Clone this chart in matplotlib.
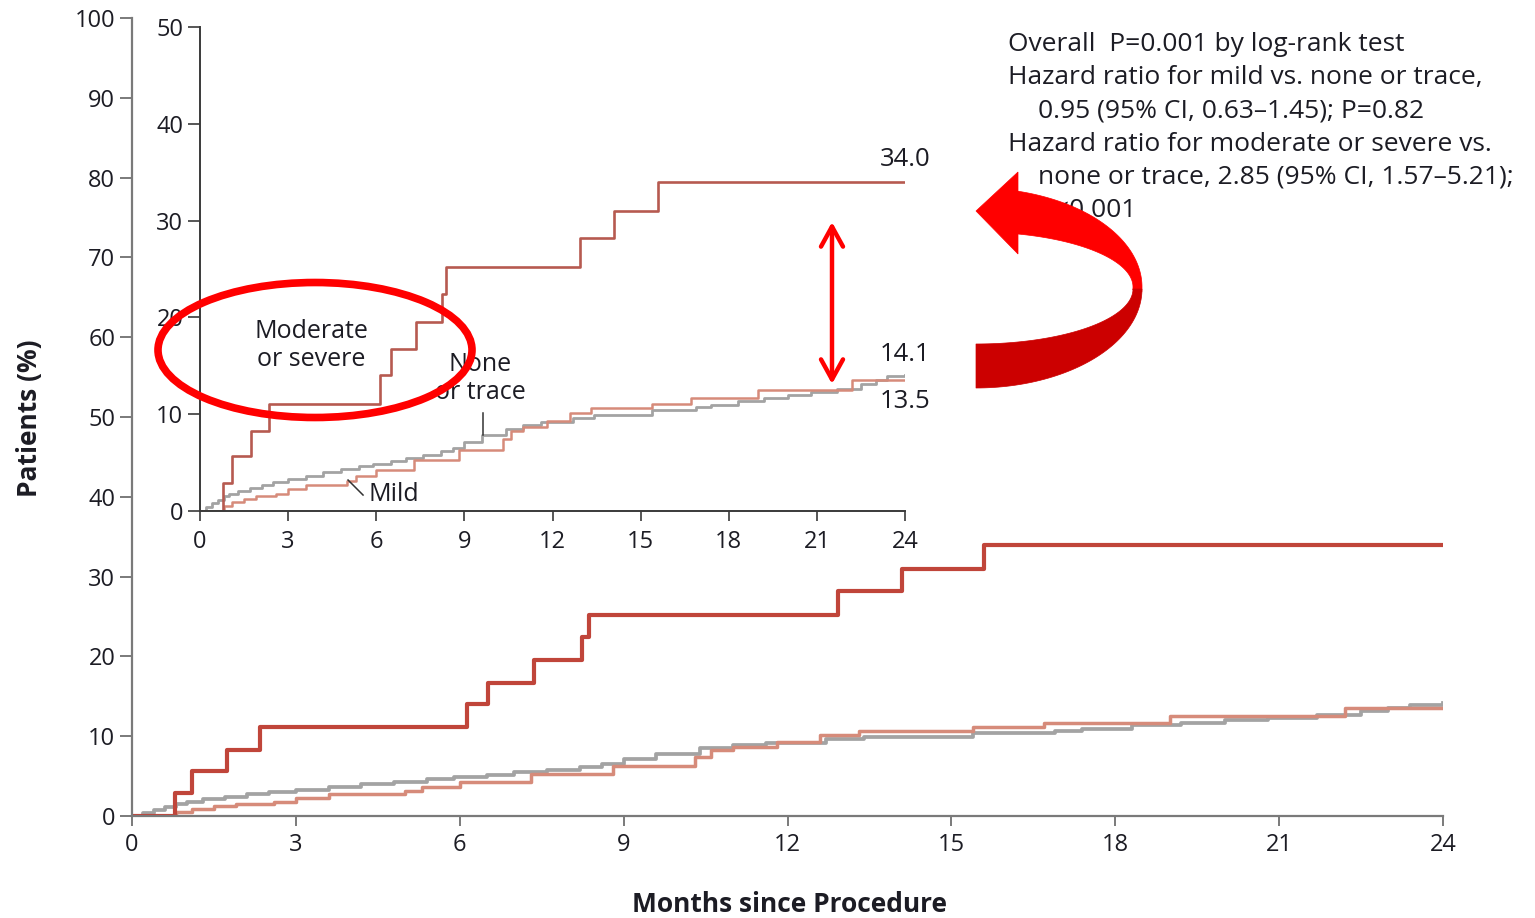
import numpy as np
import matplotlib.pyplot as plt
from matplotlib.patches import Ellipse, Polygon, FancyArrowPatch, ArrowStyle

# Kaplan-Meier curves (months since procedure, % of patients)
mod_t = [0, 0.79, 1.09, 1.73, 2.35, 6.13, 6.51, 7.36, 8.24, 8.37, 12.92, 14.1, 15.6, 24.0]
mod_v = [0, 2.9, 5.7, 8.3, 11.1, 14.0, 16.7, 19.5, 22.4, 25.2, 28.2, 31.0, 34.0, 34.0]

none_t = [0, 0.2, 0.4, 0.6, 0.8, 1.0, 1.3, 1.7, 2.1, 2.5, 3.0, 3.6, 4.2, 4.8, 5.4, 5.9,
          6.5, 7.0, 7.6, 8.2, 8.6, 9.0, 9.6, 10.4, 11.0, 11.6, 12.7, 13.4, 15.4, 16.9,
          17.4, 18.3, 19.2, 20.0, 20.8, 21.7, 22.5, 23.0, 23.4, 24.0]
none_v = [0, 0.4, 0.8, 1.1, 1.5, 1.8, 2.1, 2.4, 2.7, 3.0, 3.3, 3.6, 4.0, 4.3, 4.6, 4.9,
          5.2, 5.5, 5.8, 6.2, 6.5, 7.1, 7.8, 8.5, 8.9, 9.2, 9.6, 9.9, 10.4, 10.7,
          10.9, 11.4, 11.7, 12.0, 12.3, 12.6, 13.1, 13.5, 13.9, 14.1]

mild_t = [0, 0.8, 1.1, 1.5, 1.9, 2.6, 3.0, 3.6, 5.0, 5.3, 6.0, 7.3, 8.8, 10.3, 10.6,
          11.0, 11.8, 12.6, 13.3, 15.4, 16.7, 19.0, 22.2, 24.0]
mild_v = [0, 0.5, 0.9, 1.2, 1.5, 1.8, 2.3, 2.7, 3.1, 3.6, 4.2, 5.3, 6.3, 7.4, 8.3,
          8.7, 9.3, 10.1, 10.6, 11.1, 11.7, 12.5, 13.5, 13.5]

x_ticks = [0, 3, 6, 9, 12, 15, 18, 21, 24]
main_y_ticks = list(range(0, 101, 10))
inset_y_ticks = list(range(0, 51, 10))

stats_lines = [
    ("Overall  P=0.001 by log-rank test", 0),
    ("Hazard ratio for mild vs. none or trace,", 0),
    ("0.95 (95% CI, 0.63\u20131.45); P=0.82", 1),
    ("Hazard ratio for moderate or severe vs.", 0),
    ("none or trace, 2.85 (95% CI, 1.57\u20135.21);", 1),
    ("P<0.001", 1),
]

W, H = 1535, 918
C_MOD = "#c0453a"
C_MILD = "#d68b7a"
C_NONE = "#a3a3a3"
C_TXT = "#1c1c24"
RED = "#ff0000"
DARK_RED = "#cc0000"

plt.rcParams['font.family'] = ['Open Sans', 'DejaVu Sans']


def fx(x):
    return x / W


def fy(y):
    return 1 - y / H


fig = plt.figure(figsize=(W / 100, H / 100), dpi=100)

# main axes
ax = fig.add_axes([fx(132), fy(816), fx(1443) - fx(132), fy(18) - fy(816)])
ax.step(none_t, none_v, where="post", color=C_NONE, lw=2.7)
ax.step(mild_t, mild_v, where="post", color=C_MILD, lw=2.5)
ax.step(mod_t, mod_v, where="post", color=C_MOD, lw=3.0)
ax.set_xlim(0, 24)
ax.set_ylim(0, 100)
ax.set_xticks(x_ticks)
ax.set_yticks(main_y_ticks)
for s in ["top", "right"]:
    ax.spines[s].set_visible(False)
for s in ["left", "bottom"]:
    ax.spines[s].set_color("#7a7a7a")
    ax.spines[s].set_linewidth(1.6)
ax.tick_params(direction="out", length=9, width=1.4, color="#7a7a7a",
               labelsize=17, labelcolor=C_TXT, pad=3)
ax.tick_params(axis="x", length=7, pad=5)
ax.patch.set_alpha(0)

# inset axes (zoomed 0-50%)
ax_in = fig.add_axes([fx(200), fy(511), fx(905) - fx(200), fy(27) - fy(511)])
ax_in.step(none_t, none_v, where="post", color=C_NONE, lw=2.0)
ax_in.step(mild_t, mild_v, where="post", color=C_MILD, lw=1.8)
ax_in.step(mod_t, mod_v, where="post", color="#b65a50", lw=1.9)
ax_in.set_xlim(0, 24)
ax_in.set_ylim(0, 50)
ax_in.set_xticks(x_ticks)
ax_in.set_yticks(inset_y_ticks)
for s in ["top", "right"]:
    ax_in.spines[s].set_visible(False)
for s in ["left", "bottom"]:
    ax_in.spines[s].set_color("#3a3a3a")
    ax_in.spines[s].set_linewidth(1.4)
ax_in.tick_params(direction="out", length=9, width=1.2, color="#3a3a3a",
                  labelsize=17, labelcolor=C_TXT, pad=3)
ax_in.tick_params(axis="x", length=7, pad=7)
ax_in.patch.set_alpha(0)

# curve labels in the inset
ax_in.text(24, 36.3, "34.0", ha="center", va="center", fontsize=18.5, color=C_TXT)
ax_in.text(24, 16.2, "14.1", ha="center", va="center", fontsize=18.5, color=C_TXT)
ax_in.text(24, 11.3, "13.5", ha="center", va="center", fontsize=18.5, color=C_TXT)
ax_in.text(3.78, 17.1, "Moderate\nor severe", ha="center", va="center",
           fontsize=18, color=C_TXT, linespacing=1.15)
ax_in.text(9.55, 13.7, "None\nor trace", ha="center", va="center",
           fontsize=18, color=C_TXT, linespacing=1.15)
ax_in.text(5.72, 1.75, "Mild", ha="left", va="center", fontsize=18, color=C_TXT)
ax_in.plot([5.04, 5.55], [3.2, 1.65], color="#333333", lw=1.1)
ax_in.plot([9.64, 9.64], [10.1, 7.85], color="#333333", lw=1.1)

# axis titles
fig.text(fx(30), fy(418), "Patients (%)", rotation=90, ha="center", va="center",
         fontsize=19, fontweight="bold", color=C_TXT)
fig.text(fx(790), fy(905), "Months since Procedure", ha="center", va="center",
         fontsize=19, fontweight="bold", color=C_TXT)

# statistics block
for i, (line, indent) in enumerate(stats_lines):
    fig.text(fx(1008 + 30 * indent), fy(44.5 + 33.2 * i), line, ha="left", va="center",
             fontsize=19, color=C_TXT)

# red ellipse around "Moderate or severe"
fig.add_artist(Ellipse((fx(315), fy(350)), 314 / W, 135 / H, transform=fig.transFigure,
                       fill=False, ec=RED, lw=5.5, zorder=10))

# red double-headed arrow
fig.add_artist(FancyArrowPatch((fx(832), fy(384)), (fx(832), fy(222)),
                               transform=fig.transFigure,
                               arrowstyle=ArrowStyle("<->", head_length=0.6, head_width=0.33),
                               mutation_scale=24, lw=3.2, color=RED,
                               shrinkA=0, shrinkB=0, zorder=10))

# curved ribbon arrow
cx, cy = 976, 287
a_out, b_out = 166, 99
a_in, b_in = 157, 55
t_top_out = np.arccos(42 / a_out)
t_top_in = np.arccos(42 / a_in)
t1 = np.linspace(t_top_out, -0.05, 60)
t2 = np.linspace(-0.05, t_top_in, 60)
top_pts = [(cx + a_out * np.cos(t), cy - b_out * np.sin(t)) for t in t1]
top_pts += [(cx + a_in * np.cos(t), cy - b_in * np.sin(t)) for t in t2]
t3 = np.linspace(0, -np.pi / 2, 60)
t4 = np.linspace(-np.pi / 2, 0, 60)
bot_pts = [(cx + a_out * np.cos(t), cy - b_out * np.sin(t) + 2) for t in t3]
bot_pts += [(cx + a_in * np.cos(t), cy - b_in * np.sin(t) + 2) for t in t4]
head_pts = [(1018, 172), (976, 211), (1018, 254)]


def to_fig(pts):
    return [(fx(x), fy(y)) for x, y in pts]


fig.add_artist(Polygon(to_fig(top_pts), closed=True, fc=RED, ec=RED, lw=0.5,
                       transform=fig.transFigure, zorder=11))
fig.add_artist(Polygon(to_fig(bot_pts), closed=True, fc=DARK_RED, ec=DARK_RED, lw=0.5,
                       transform=fig.transFigure, zorder=11))
fig.add_artist(Polygon(to_fig(head_pts), closed=True, fc=RED, ec=RED, lw=0.5,
                       transform=fig.transFigure, zorder=11))

fig.savefig("out.png", dpi=100, facecolor="white")
